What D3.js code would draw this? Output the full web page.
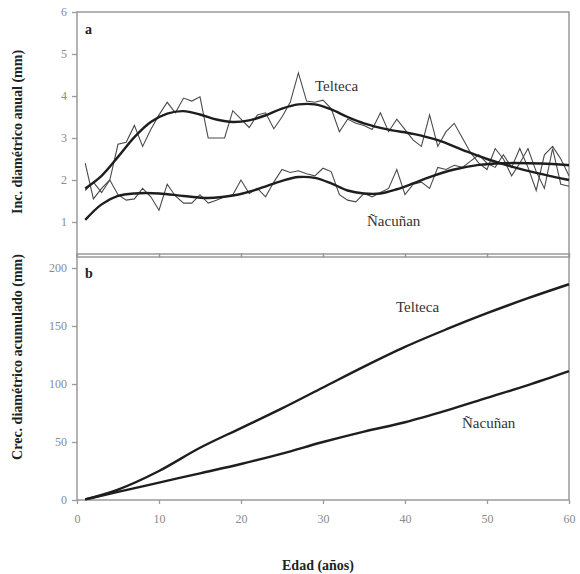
<!DOCTYPE html>
<html><head><meta charset="utf-8">
<script src="https://cdn.jsdelivr.net/npm/d3@7"></script>
<style>body{margin:0;background:#fff}svg{display:block}text{font-family:"Liberation Serif","Times New Roman",serif}</style>
</head><body>
<script>
const ages = d3.range(1, 61);
const telRaw = [2.4,1.55,1.8,2.0,2.85,2.9,3.3,2.8,3.2,3.55,3.85,3.6,3.95,3.88,3.98,3.0,3.0,3.0,3.65,3.45,3.25,3.55,3.6,3.22,3.5,3.85,4.55,3.88,3.85,3.9,3.7,3.15,3.45,3.35,3.3,3.2,3.6,3.15,3.45,3.2,2.95,2.8,3.55,2.8,3.15,3.35,3.0,2.65,2.4,2.25,2.75,2.5,2.1,2.4,2.75,2.2,1.8,2.75,1.9,1.85];
const nacRaw = [1.75,1.95,1.7,2.0,1.65,1.52,1.55,1.8,1.6,1.28,1.9,1.62,1.45,1.45,1.65,1.45,1.52,1.6,1.65,2.0,1.68,1.8,1.6,1.95,2.25,2.18,2.22,2.15,2.1,2.28,2.2,1.65,1.52,1.48,1.68,1.6,1.7,1.8,2.25,1.65,1.9,1.95,1.8,2.3,2.25,2.35,2.3,2.45,2.6,2.4,2.3,2.6,2.3,2.75,2.3,1.75,2.6,2.8,2.5,2.1];
const telSmoothAge = [1,3,5,7,9,11,13,15,17,19,21,23,25,27,29,31,33,35,38,41,44,47,50,53,56,60];
const telSmooth = [1.8,2.1,2.55,3.02,3.38,3.58,3.64,3.56,3.44,3.38,3.42,3.54,3.7,3.8,3.8,3.68,3.5,3.35,3.2,3.1,2.95,2.72,2.5,2.32,2.17,2.0];
const nacSmoothAge = [1,3,5,7,10,13,16,19,22,25,27,29,31,33,35,37,39,41,43,46,49,52,55,58,60];
const nacSmooth = [1.05,1.42,1.62,1.68,1.68,1.62,1.57,1.63,1.78,1.98,2.07,2.05,1.92,1.75,1.68,1.68,1.78,1.92,2.07,2.25,2.36,2.4,2.4,2.38,2.35];
const cumAge = [1,5,10,15,20,25,30,35,40,45,50,55,60];
const telCum = [0.5,9,25,45,62,79,97,115,132,147,161,174,186];
const nacCum = [0.5,7,15,23,31,40,50,59,67,77,88,99,111];
const xTicks = [0,10,20,30,40,50,60];
const yTicksA = [1,2,3,4,5,6];
const yTicksB = [0,50,100,150,200];

const W = 580, H = 574;
const L = 77, R = 569;
const aTop = 12, aBot = 257, bTop = 254, bBot = 500;
const svg = d3.select("body").append("svg").attr("width", W).attr("height", H);
const serif = "Liberation Serif, Times New Roman, serif";

const x = d3.scaleLinear().domain([0, 60]).range([L, R]);
const yA = d3.scaleLinear().domain([0, 6]).range([264, aTop]);
const yB = d3.scaleLinear().domain([0, 200]).range([bBot, 268]);

const frameCol = "#9a9a9a";
function frame(t, b) {
  svg.append("rect").attr("x", L).attr("y", t).attr("width", R - L).attr("height", b - t)
    .attr("fill", "none").attr("stroke", frameCol).attr("stroke-width", 1.5);
}
frame(aTop, aBot);
frame(bTop, bBot);

const fmt = d3.format("d");
svg.append("g").attr("transform", `translate(${L},0)`)
  .call(d3.axisLeft(yA).tickValues(yTicksA).tickFormat(fmt).tickSize(5).tickPadding(5));
svg.append("g").attr("transform", `translate(${L},0)`)
  .call(d3.axisLeft(yB).tickValues(yTicksB).tickFormat(fmt).tickSize(5).tickPadding(5));
svg.append("g").attr("transform", `translate(0,${bBot})`)
  .call(d3.axisBottom(x).tickValues(xTicks).tickFormat(fmt).tickSize(4).tickPadding(10));
svg.append("g").attr("transform", `translate(0,${aBot})`)
  .call(d3.axisTop(x).tickValues(xTicks).tickSize(4).tickFormat(""));
svg.append("g").attr("transform", `translate(0,${bTop})`)
  .call(d3.axisBottom(x).tickValues(xTicks).tickSize(4).tickFormat(""));
svg.selectAll("g").attr("font-family", serif);
svg.selectAll(".domain").remove();
svg.selectAll(".tick line").attr("stroke", frameCol).attr("stroke-width", 1.3);
svg.selectAll(".tick text").attr("fill", "#8a8a8a").attr("font-family", serif).attr("font-size", 12);

const lineA = d3.line().x(d => x(d[0])).y(d => yA(d[1]));
const smoothA = d3.line().x(d => x(d[0])).y(d => yA(d[1])).curve(d3.curveCatmullRom.alpha(0.5));
const lineB = d3.line().x(d => x(d[0])).y(d => yB(d[1])).curve(d3.curveMonotoneX);

[telRaw, nacRaw].forEach(s => {
  svg.append("path").attr("d", lineA(ages.map((a, i) => [a, s[i]])))
    .attr("fill", "none").attr("stroke", "#4a4a4a").attr("stroke-width", 1.1);
});
[[telSmoothAge, telSmooth], [nacSmoothAge, nacSmooth]].forEach(([ag, s]) => {
  svg.append("path").attr("d", smoothA(ag.map((a, i) => [a, s[i]])))
    .attr("fill", "none").attr("stroke", "#1e1e1e").attr("stroke-width", 2.4);
});
[telCum, nacCum].forEach(s => {
  svg.append("path").attr("d", lineB(cumAge.map((a, i) => [a, s[i]])))
    .attr("fill", "none").attr("stroke", "#1e1e1e").attr("stroke-width", 2.4);
});

function txt(tx, ty, s, opts = {}) {
  const t = svg.append("text").attr("x", tx).attr("y", ty).text(s)
    .attr("font-family", serif).attr("font-size", opts.size || 14)
    .attr("fill", opts.fill || "#222")
    .attr("text-anchor", opts.anchor || "start");
  if (opts.bold) t.attr("font-weight", "bold");
  if (opts.rotate) t.attr("transform", `rotate(-90,${tx},${ty})`);
  return t;
}
txt(85, 34, "a", {bold: true, size: 14});
txt(85, 278, "b", {bold: true, size: 14});
txt(315, 91, "Telteca", {size: 15, fill: "#333"});
txt(367, 226, "Ñacuñan", {size: 15, fill: "#333"});
txt(396, 312, "Telteca", {size: 15, fill: "#333"});
txt(462, 428, "Ñacuñan", {size: 15, fill: "#333"});
txt(22, 132, "Inc. diamétrico anual (mm)", {bold: true, size: 14, anchor: "middle", rotate: true});
txt(22, 357, "Crec. diamétrico acumulado (mm)", {bold: true, size: 14, anchor: "middle", rotate: true});
txt(318, 570, "Edad (años)", {bold: true, size: 14, anchor: "middle"});
</script>
</body></html>
